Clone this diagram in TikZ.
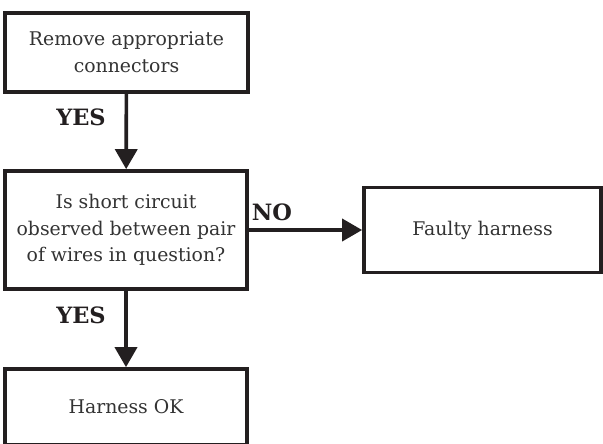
\documentclass[tikz,border=0pt]{standalone}
\usepackage{fontspec}
\setmainfont{DejaVu Serif}
\usepackage{tikz}
\usetikzlibrary{arrows.meta,positioning}

\definecolor{inkline}{HTML}{231F20}
\definecolor{inktext}{HTML}{333333}

\begin{document}
\begin{tikzpicture}[x=0.025cm, y=-0.025cm,
	box/.style={draw=inkline, rectangle, line width=2.6pt, align=center, text=inktext, font=\fontsize{13.4}{19}\selectfont},
	answer/.style={font=\bfseries\fontsize{16}{18}\selectfont, text=inkline},
	flow/.style={line width=2.6pt, draw=inkline, -{Triangle[length=0.5cm, width=0.55cm]}}]
		\clip (0,0) rectangle (603,443);

		\node[box, minimum width=6.075cm, minimum height=1.975cm] (remove) at (126.5,52.5) {Remove appropriate\\connectors};
		\node[box, minimum width=6.05cm, minimum height=2.95cm] (short) at (126,230) {Is short circuit\\observed between pair\\of wires in question?};
		\node[box, minimum width=5.925cm, minimum height=2.125cm] (faulty) at (482.5,230) {Faulty harness};
		\node[box, minimum width=6.05cm, minimum height=1.9cm] (ok) at (126,407) {Harness OK};

		\draw[flow] (remove) -- (short);
		\draw[flow] (short) -- (faulty);
		\draw[flow] (short) -- (ok);

		\node[answer] (yes1) at (81,117) {YES};
		\node[answer] (no) at (272,212) {NO};
		\node[answer] (yes2) at (81,315) {YES};
	\end{tikzpicture}
\end{document}
